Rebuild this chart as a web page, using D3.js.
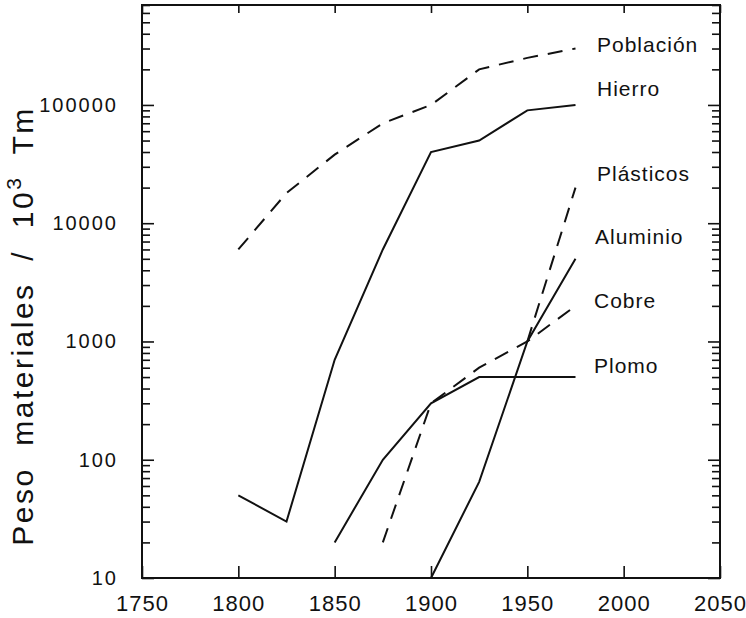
<!DOCTYPE html>
<html>
<head>
<meta charset="utf-8">
<script src="https://cdn.jsdelivr.net/npm/d3@7"></script>
<style>
  body { margin: 0; background: #fff; }
  svg { display: block; }
  text { font-family: "Liberation Sans", Arial, sans-serif; fill: #111; }
</style>
</head>
<body>
<svg id="chart" width="746" height="618"></svg>
<script>
// ---- data ----
const poblacionYears = [1800, 1825, 1850, 1875, 1900, 1925, 1950, 1975];
const poblacionValues = [6000, 18000, 38000, 70000, 100000, 200000, 250000, 300000];

const hierroYears = [1800, 1825, 1850, 1875, 1900, 1925, 1950, 1975];
const hierroValues = [50, 30, 700, 6000, 40000, 50000, 90000, 100000];

const plasticosYears = [1950, 1975];
const plasticosValues = [1000, 20000];

const aluminioYears = [1900, 1925, 1950, 1975];
const aluminioValues = [10, 65, 1000, 5000];

const cobreYears = [1875, 1900, 1925, 1950, 1975];
const cobreValues = [20, 300, 600, 1000, 2000];

const plomoYears = [1850, 1875, 1900, 1925, 1950, 1975];
const plomoValues = [20, 100, 300, 500, 500, 500];

const seriesNames = ["Población", "Hierro", "Plásticos", "Aluminio", "Cobre", "Plomo"];
const seriesDashed = [true, false, true, false, true, false];

const xTickValues = [1750, 1800, 1850, 1900, 1950, 2000, 2050];
const yTickValues = [10, 100, 1000, 10000, 100000];
const yTitle = "Peso  materiales  /  10";
const yTitleSup = "3";
const yTitleEnd = "  Tm";

// ---- layout ----
const mLeft = 142, mRight = 720, mTop = 5, mBottom = 578;
const svg = d3.select("#chart");

const x = d3.scaleLinear().domain([1750, 2050]).range([mLeft, mRight]);
const y = d3.scaleLog().domain([10, 700000]).range([mBottom, mTop]);

const minorTicks = y.ticks().filter(v => !yTickValues.includes(v) && v <= 700000);

function clean(g) { g.select(".domain").remove(); g.selectAll("line").attr("stroke", "#111").attr("stroke-width", 1.6); }

svg.append("g").attr("transform", `translate(0,${mBottom})`)
  .call(d3.axisBottom(x).tickValues(xTickValues).tickSizeInner(-12).tickSizeOuter(0).tickPadding(17).tickFormat(d3.format("d")))
  .call(clean)
  .call(g => g.selectAll("text").attr("font-size", 22).attr("letter-spacing", 1).attr("font-family", "Liberation Sans, Arial, sans-serif").attr("fill", "#111"));

svg.append("g").attr("transform", `translate(0,${mTop})`)
  .call(d3.axisTop(x).tickValues(xTickValues).tickSizeInner(-8).tickSizeOuter(0).tickFormat(""))
  .call(clean);

svg.append("g").attr("transform", `translate(${mLeft},0)`)
  .call(d3.axisLeft(y).tickValues(yTickValues).tickSizeInner(-12).tickSizeOuter(0).tickPadding(24).tickFormat(d3.format("d")))
  .call(clean)
  .call(g => g.selectAll("text").attr("font-size", 20).attr("letter-spacing", 2).attr("font-family", "Liberation Sans, Arial, sans-serif").attr("fill", "#111"));

svg.append("g").attr("transform", `translate(${mLeft},0)`)
  .call(d3.axisLeft(y).tickValues(minorTicks).tickSizeInner(-8).tickSizeOuter(0).tickFormat(""))
  .call(clean);

svg.append("g").attr("transform", `translate(${mRight},0)`)
  .call(d3.axisRight(y).tickValues(yTickValues).tickSizeInner(-12).tickSizeOuter(0).tickFormat(""))
  .call(clean);

svg.append("g").attr("transform", `translate(${mRight},0)`)
  .call(d3.axisRight(y).tickValues(minorTicks).tickSizeInner(-8).tickSizeOuter(0).tickFormat(""))
  .call(clean);

svg.append("rect").attr("x", mLeft).attr("y", mTop).attr("width", mRight - mLeft).attr("height", mBottom - mTop)
  .attr("fill", "none").attr("stroke", "#111").attr("stroke-width", 2);

const yt = svg.append("text")
  .attr("transform", `translate(33,${326}) rotate(-90)`)
  .attr("text-anchor", "middle")
  .attr("font-size", 30)
  .attr("letter-spacing", 2.5)
  .style("white-space", "pre");
yt.append("tspan").text(yTitle);
yt.append("tspan").attr("dy", -12).attr("font-size", 21).text(yTitleSup);
yt.append("tspan").attr("dy", 12).text(yTitleEnd);

const allYears = [poblacionYears, hierroYears, plasticosYears, aluminioYears, cobreYears, plomoYears];
const allValues = [poblacionValues, hierroValues, plasticosValues, aluminioValues, cobreValues, plomoValues];

const line = d3.line().x(d => x(d[0])).y(d => y(d[1]));

allYears.forEach((yrs, i) => {
  const pts = yrs.map((yr, j) => [yr, allValues[i][j]]);
  svg.append("path").datum(pts)
    .attr("d", line)
    .attr("fill", "none")
    .attr("stroke", "#111")
    .attr("stroke-width", 2)
    .attr("stroke-dasharray", seriesDashed[i] ? "15,10" : null);
});

const labelBaselines = [52, 96, 181, 244, 308, 373];
const labelX = [597, 597, 597, 595, 594, 594];
seriesNames.forEach((n, i) => {
  svg.append("text").attr("x", labelX[i]).attr("y", labelBaselines[i])
    .attr("font-size", 21).attr("letter-spacing", 1).text(n);
});
</script>
</body>
</html>
